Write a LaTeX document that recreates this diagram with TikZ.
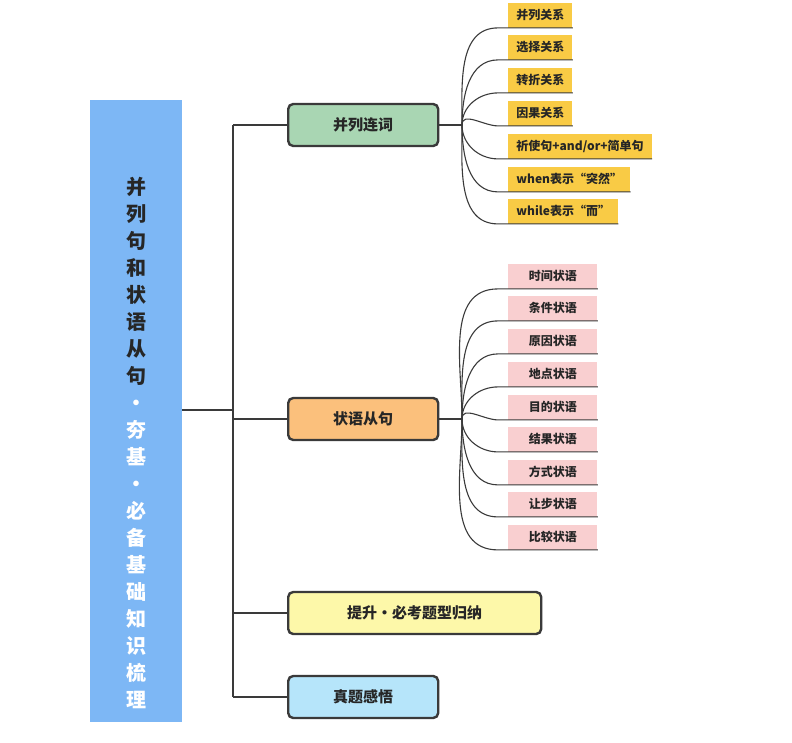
\documentclass[tikz,border=0pt]{standalone}
\usepackage{fontspec}
\setmainfont{Noto Sans CJK SC}
\usetikzlibrary{positioning, calc}
\definecolor{rootblue}{HTML}{7DB7F5}
\definecolor{linegray}{HTML}{3A3A3A}
\definecolor{bgreen}{HTML}{A9D6B3}
\definecolor{borange}{HTML}{FBC07C}
\definecolor{byellow}{HTML}{FDF8A9}
\definecolor{bblue}{HTML}{B6E5FA}
\definecolor{lyellow}{HTML}{F9CB45}
\definecolor{lpink}{HTML}{F9CFD0}
\begin{document}
\begin{tikzpicture}[x=1pt, y=-1pt, thick,
  branch/.style={draw=linegray, line width=2.4pt, rounded corners=5pt, anchor=west, minimum height=42pt, font=\fontsize{15}{15}\selectfont\bfseries, text=black!85},
  leaf/.style={anchor=west, minimum height=25pt, inner xsep=8pt, font=\fontsize{12}{12}\selectfont\bfseries, text=black!85},
  trunk/.style={draw=linegray, line width=2.6pt},
  twig/.style={draw=linegray, line width=1.1pt}]
\useasboundingbox (0,0) rectangle (792,742);
% Wurzel
\fill[rootblue] (90,100) rectangle (182,722);
\node[font=\fontsize{20}{27}\selectfont\bfseries, align=center, text=black!85] (root) at (136,443)
  {并\\列\\句\\和\\状\\语\\从\\句\\\color{white}·\\\color{white}夯\\\color{white}基\\\color{white}·\\\color{white}必\\\color{white}备\\\color{white}基\\\color{white}础\\\color{white}知\\\color{white}识\\\color{white}梳\\\color{white}理};
\coordinate (rootR) at (182,410);
% Hauptzweige
\node[branch, fill=bgreen, minimum width=150pt] (lianci) at (287,125) {并列连词};
\node[branch, fill=borange, minimum width=150pt] (zhuangyu) at (287,419) {状语从句};
\node[branch, fill=byellow, minimum width=253pt] (tisheng) at (287,613) {提升·必考题型归纳};
\node[branch, fill=bblue, minimum width=150pt] (zhenti) at (287,697) {真题感悟};
\coordinate (tA) at (233,125);
\coordinate (tB) at (233,697);
\draw[trunk] (tA) -- (tB);
\draw[trunk] (rootR) -- (233,410);
\foreach \b in {lianci, zhuangyu, tisheng, zhenti}
  \draw[trunk] (\b.west -| tA) -- (\b.west);
% Blaetter: Gruppe 1
\coordinate (hubA) at (462,125);
\draw[twig] (lianci.east) -- (hubA);
\foreach \t/\y [count=\i] in {并列关系/15, 选择关系/47, 转折关系/80, 因果关系/113, {祈使句+and/or+简单句}/146, when表示“突然”/179, while表示“而”/211}{
  \node[leaf, fill=lyellow] (la\i) at (508,\y) {\t};
  \draw[twig] (hubA) to[out=-90+180*(\y<125), in=180] ($(la\i.south west)+(-10,0)$) -- (la\i.south east);
}
% Blaetter: Gruppe 2
\coordinate (hubB) at (462,419);
\draw[twig] (zhuangyu.east) -- (hubB);
\foreach \t/\y [count=\i] in {时间状语/276, 条件状语/308, 原因状语/341, 地点状语/374, 目的状语/407, 结果状语/439, 方式状语/472, 让步状语/504, 比较状语/537}{
  \node[leaf, fill=lpink, minimum width=89pt] (lb\i) at (508,\y) {\t};
  \draw[twig] (hubB) to[out=-90+180*(\y<419), in=180] ($(lb\i.south west)+(-10,0)$) -- (lb\i.south east);
}
\end{tikzpicture}
\end{document}
